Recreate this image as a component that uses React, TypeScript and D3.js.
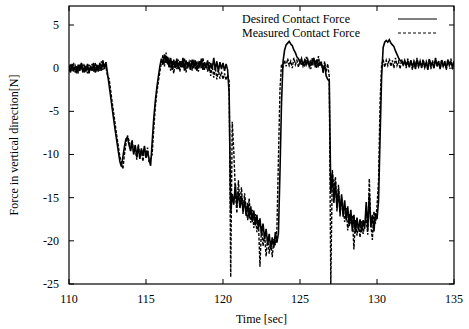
import * as d3 from 'd3'
import { useEffect, useRef } from 'react'

// samples start at 110 s, one every 0.1 s
const startTime = 110
const step = 0.1

const desiredForce: number[] = [
    0.3, -0.5, 0.5, -0.4, 0.2, -0.6, 0.4, -0.3, 0.6, -0.5,
    0.2, -0.4, 0.5, -0.6, 0.3, -0.3, 0.6, -0.5, 0.4, -0.4,
    0.6, -0.3, 0.9, -0.1, 0.7, -0.6, -1.9, -3.2, -4.6, -5.9,
    -7.2, -8.4, -9.6, -10.8, -11.4, -10.3, -9.1, -8.2, -8.0, -8.9,
    -9.6, -8.6, -10.0, -8.9, -10.3, -9.1, -10.5, -9.3, -10.1, -9.0,
    -10.4, -9.6, -10.6, -11.3, -8.6, -5.9, -3.9, -2.3, -1.0, 0.2,
    1.1, 0.4, 1.6, 0.6, 1.3, 0.1, 1.2, -0.2, 1.0, 0.0,
    1.1, -0.1, 0.8, 0.1, 1.2, -0.3, 0.9, 0.2, 0.7, -0.2,
    1.0, 0.0, 0.9, -0.3, 0.6, 0.2, 1.1, -0.2, 0.7, 0.0,
    0.9, -0.3, 0.6, -0.1, 1.2, -0.2, 0.8, -0.4, 0.7, -0.1,
    0.6, -0.3, 0.5, -0.2, -3.0, -16.8, -14.6, -15.8, -13.4, -15.9,
    -14.3, -16.2, -14.8, -16.6, -15.2, -17.1, -15.6, -17.4, -16.0, -17.8,
    -16.5, -18.2, -17.0, -18.6, -17.4, -19.3, -18.0, -19.8, -18.6, -20.4,
    -19.2, -21.0, -19.6, -20.8, -19.0, -20.2, -19.1, -12.0, -4.0, 0.8,
    2.1, 2.7, 2.9, 3.1, 2.8, 2.6, 2.1, 1.8, 1.3, 1.1,
    0.6, 1.1, 0.3, 0.9, 0.4, 1.0, 0.2, 0.8, 0.5, 1.2,
    0.1, 1.0, 0.3, 0.7, 0.5, -0.3, 0.4, -0.9, -1.3, -1.5,
    -14.5, -12.2, -15.6, -13.1, -16.2, -14.0, -16.8, -14.6, -17.2, -15.3,
    -17.6, -16.0, -18.3, -16.4, -18.9, -17.0, -19.1, -17.3, -18.8, -17.5,
    -19.0, -17.6, -18.6, -15.5, -18.7, -14.6, -18.4, -17.0, -18.9, -16.8,
    -17.5, -15.4, -8.0, -1.0, 2.4, 3.0, 3.2, 3.0, 3.3, 2.9,
    2.7, 2.5, 2.0, 1.6, 1.2, 0.9, 0.8, 0.4, 0.9, 0.3,
    0.8, 0.1, 0.9, 0.2, 0.7, -0.1, 1.0, 0.2, 0.8, 0.0,
    0.9, 0.1, 0.7, -0.2, 1.0, 0.3, 0.6, 0.0, 1.1, 0.2,
    0.8, -0.1, 0.9, 0.2, 0.6, 0.0, 1.0, 0.3, 0.7, 0.1,
    0.8,
]

const measuredForce: number[] = [
    -0.4, 0.5, -0.3, 0.6, -0.5, 0.3, -0.6, 0.4, -0.2, 0.5,
    -0.5, 0.3, -0.6, 0.4, -0.3, 0.5, -0.4, 0.6, -0.2, 0.4,
    -0.3, 0.8, -0.2, 0.6, 0.1, -0.9, -1.2, -2.5, -3.9, -5.2,
    -6.5, -7.8, -9.0, -10.2, -11.0, -11.7, -10.0, -8.8, -7.8, -8.4,
    -9.2, -8.3, -9.8, -9.0, -10.6, -8.8, -10.1, -9.6, -10.8, -9.4,
    -10.0, -9.2, -10.9, -10.4, -10.0, -7.2, -4.6, -2.9, -1.6, -0.4,
    0.6, 1.5, 0.2, 1.8, 0.4, 1.2, -0.3, 0.9, -0.6, 0.8,
    -0.1, 1.0, -0.4, 0.8, 0.0, 1.1, -0.5, 0.7, 0.1, 0.9,
    -0.3, 1.0, -0.1, 0.8, -0.4, 0.9, 0.0, 1.2, -0.2, 0.6,
    -0.4, 0.7, -0.9, 0.3, -1.1, 0.1, -1.3, -0.2, -1.2, -0.4,
    -1.3, -0.6, -1.4, -0.8, -1.5, -24.2, -6.2, -9.6, -14.2, -16.8,
    -13.0, -15.6, -13.8, -16.9, -14.5, -16.2, -17.6, -15.1, -17.9, -16.4,
    -18.5, -16.9, -19.0, -17.6, -23.0, -18.3, -20.6, -19.2, -21.8, -19.6,
    -21.5, -20.0, -21.9, -19.8, -20.5, -18.6, -10.5, -2.5, 0.5, 0.2,
    0.9, 0.2, 1.1, 0.3, 0.8, 0.0, 1.2, 0.4, 0.9, 0.1,
    1.0, 0.3, 0.8, 0.2, 1.3, 0.4, 0.7, -0.1, 1.2, 0.5,
    0.9, 0.0, 1.4, 0.2, 0.6, -0.6, 0.8, -0.4, 0.5, -1.0,
    -25.0, -11.8, -14.0, -12.6, -16.6, -13.5, -17.2, -15.0, -16.1, -17.8,
    -16.2, -18.8, -16.9, -18.0, -17.1, -21.0, -17.6, -19.4, -18.1, -19.6,
    -17.7, -19.2, -18.0, -17.5, -19.3, -12.8, -18.2, -19.9, -16.6, -18.0,
    -16.0, -13.0, -4.0, 0.4, 1.0, 0.1, 0.9, 0.3, 1.1, 0.2,
    0.9, 0.0, 1.2, 0.3, 0.8, -0.1, 1.0, 0.4, 0.7, 0.0,
    1.1, 0.2, 0.9, -0.2, 0.8, 0.3, 1.2, 0.1, 0.7, 0.4,
    1.0, 0.0, 0.8, 0.3, 1.1, -0.1, 0.9, 0.2, 1.2, 0.4,
    0.7, 0.0, 1.0, 0.2, 0.9, -0.2, 0.8, 0.4, 1.1, 0.1,
    0.6,
]

const xTicks = [110, 115, 120, 125, 130, 135]
const yTicks = [5, 0, -5, -10, -15, -20, -25]
const legendLabels = ['Desired Contact Force', 'Measured Contact Force']

const font = '"Liberation Serif", "Times New Roman", serif'

const drawChart = (svgEl: SVGSVGElement) => {
    const width = 469
    const height = 329
    const margin = { top: 6, right: 15, bottom: 45, left: 69 }
    const innerW = width - margin.left - margin.right
    const innerH = height - margin.top - margin.bottom

    const svg = d3.select(svgEl)
    svg.selectAll('*').remove()

    const x = d3.scaleLinear().domain([110, 135]).range([0, innerW])
    const y = d3.scaleLinear().domain([-25, 7.2]).range([innerH, 0])

    const g = svg.append('g').attr('transform', `translate(${margin.left},${margin.top})`)

    const clip = g.append('clipPath').attr('id', 'plotClip')
    clip.append('rect').attr('width', innerW).attr('height', innerH)

    const line = d3.line<number>()
        .x((_, i) => x(startTime + i * step))
        .y(d => y(d))

    const plot = g.append('g').attr('clip-path', 'url(#plotClip)')

    plot.append('path')
        .datum(desiredForce)
        .attr('fill', 'none')
        .attr('stroke', '#000')
        .attr('stroke-width', 1.6)
        .attr('d', line)

    plot.append('path')
        .datum(measuredForce)
        .attr('fill', 'none')
        .attr('stroke', '#000')
        .attr('stroke-width', 1.4)
        .attr('stroke-dasharray', '3,1.5')
        .attr('d', line)

    // ticks on all four sides, pointing inwards
    const tickLen = 5
    xTicks.forEach(t => {
        g.append('line').attr('x1', x(t)).attr('x2', x(t)).attr('y1', innerH).attr('y2', innerH - tickLen).attr('stroke', '#000')
        g.append('line').attr('x1', x(t)).attr('x2', x(t)).attr('y1', 0).attr('y2', tickLen).attr('stroke', '#000')
        g.append('text')
            .attr('x', x(t)).attr('y', innerH + 19)
            .attr('text-anchor', 'middle')
            .attr('font-family', font).attr('font-size', 12)
            .text(t)
    })
    yTicks.forEach(v => {
        g.append('line').attr('x1', 0).attr('x2', tickLen).attr('y1', y(v)).attr('y2', y(v)).attr('stroke', '#000')
        g.append('line').attr('x1', innerW).attr('x2', innerW - tickLen).attr('y1', y(v)).attr('y2', y(v)).attr('stroke', '#000')
        g.append('text')
            .attr('x', -10).attr('y', y(v) + 4)
            .attr('text-anchor', 'end')
            .attr('font-family', font).attr('font-size', 12)
            .text(v)
    })

    g.append('rect')
        .attr('width', innerW).attr('height', innerH)
        .attr('fill', 'none').attr('stroke', '#000').attr('stroke-width', 1.2)

    g.append('text')
        .attr('x', innerW / 2).attr('y', innerH + 39)
        .attr('text-anchor', 'middle')
        .attr('font-family', font).attr('font-size', 12)
        .text('Time [sec]')

    g.append('text')
        .attr('transform', `translate(${-51},${innerH / 2}) rotate(-90)`)
        .attr('text-anchor', 'middle')
        .attr('font-family', font).attr('font-size', 12)
        .text('Force in vertical direction[N]')

    // key
    legendLabels.forEach((label, i) => {
        const ly = 13 + i * 14
        g.append('text')
            .attr('x', 173).attr('y', ly + 4)
            .attr('font-family', font).attr('font-size', 12)
            .text(label)
        g.append('line')
            .attr('x1', 329).attr('x2', 368)
            .attr('y1', ly).attr('y2', ly)
            .attr('stroke', '#000')
            .attr('stroke-dasharray', i === 1 ? '3,2' : null)
    })
}

const App = () => {
    const ref = useRef<SVGSVGElement>(null)

    useEffect(() => {
        if (ref.current) drawChart(ref.current)
    }, [])

    return (
        <svg ref={ref} width={469} height={329} style={{ position: 'absolute', left: 0, top: 0, background: '#fff' }}></svg>
    )
}

export default App
